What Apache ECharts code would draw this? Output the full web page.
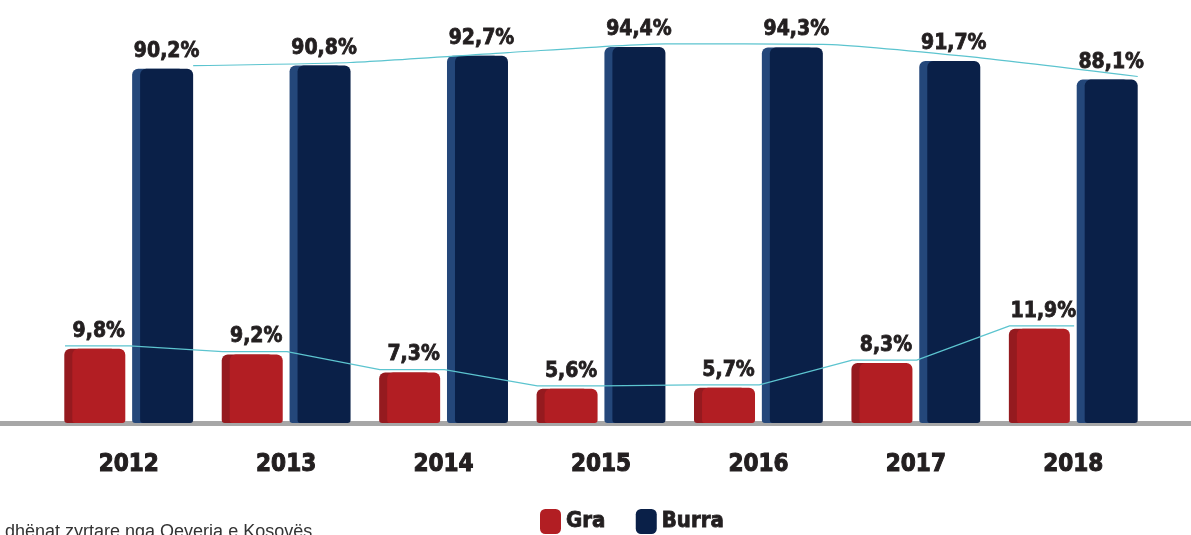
<!DOCTYPE html>
<html>
<head>
<meta charset="utf-8">
<script src="https://cdn.jsdelivr.net/npm/echarts@6/dist/echarts.min.js"></script>
<style>
  html, body { margin: 0; padding: 0; background: #fff; }
  #chart { width: 1191px; height: 535px; }
</style>
</head>
<body>
<div id="chart"></div>
<script>
// te dhenat
const years = ['2012', '2013', '2014', '2015', '2016', '2017', '2018'];
const gra = [9.8, 9.2, 7.3, 5.6, 5.7, 8.3, 11.9];
const burra = [90.2, 90.8, 92.7, 94.4, 94.3, 91.7, 88.1];
const source = 'dhënat zyrtare nga Qeveria e Kosovës';

const narrow = '"Liberation Sans Narrow", "DejaVu Sans Condensed", sans-serif';
const ink = '#231f20';
const fmt = v => v.toFixed(1).replace('.', ',') + '%';

// vijat e trendit
const graTrend = [];
gra.forEach((v, i) => {
  graTrend.push([i - 0.43, v + 0.3]);
  graTrend.push([i - 0.02, v + 0.3]);
});
const burraTrend = burra.map((v, i) => [i + 0.384, v + 0.6]);

const valueLabel = {
  show: true,
  position: 'top',
  distance: 7,
  formatter: p => fmt(p.value),
  fontSize: 21,
  fontWeight: 'bold',
  fontFamily: narrow,
  color: ink,
  textBorderColor: ink,
  textBorderWidth: 0.8
};

const chart = echarts.init(document.getElementById('chart'));

const option = {
  animation: false,
  title: {
    text: source,
    left: 0,
    top: 518,
    textStyle: { fontSize: 18, fontWeight: 'normal', fontFamily: '"Liberation Sans", Arial, sans-serif', color: '#333' }
  },
  legend: {
    data: ['Gra', 'Burra'],
    left: 535,
    top: 504,
    icon: 'roundRect',
    itemWidth: 21,
    itemHeight: 25,
    itemGap: 30,
    textStyle: { fontSize: 22, fontWeight: 'bold', fontFamily: narrow, color: ink, textBorderColor: ink, textBorderWidth: 0.8 }
  },
  graphic: [{
    type: 'rect',
    left: 0,
    top: 421,
    shape: { width: 1191, height: 5 },
    style: { fill: '#a7a7a7' }
  }],
  grid: { left: 54, right: 35, top: 23, bottom: 112 },
  xAxis: [
    {
      type: 'category',
      data: years,
      axisLine: { show: false },
      axisTick: { show: false },
      axisLabel: {
        fontSize: 24, fontWeight: 'bold', fontFamily: narrow, color: ink,
        textBorderColor: ink, textBorderWidth: 1, margin: 30, padding: [0, 8, 0, 0]
      }
    },
    { type: 'value', min: -0.5, max: 6.5, show: false }
  ],
  yAxis: [
    { type: 'value', min: 22, max: 99, show: false },
    { type: 'value', min: 2, max: 44, show: false }
  ],
  series: [
    {
      name: 'Gra',
      type: 'bar',
      yAxisIndex: 1,
      barWidth: 53,
      barGap: '28%',
      data: gra,
      itemStyle: {
        color: '#b21e23',
        borderRadius: [6, 6, 3, 3],
        shadowColor: '#951a1f',
        shadowOffsetX: -8,
        shadowBlur: 0
      },
      label: valueLabel
    },
    {
      name: 'Burra',
      type: 'bar',
      yAxisIndex: 0,
      barWidth: 53,
      data: burra,
      itemStyle: {
        color: '#0a2048',
        borderRadius: [6, 6, 3, 3],
        shadowColor: '#24477a',
        shadowOffsetX: -8,
        shadowBlur: 0
      },
      label: valueLabel
    },
    {
      type: 'line',
      xAxisIndex: 1,
      yAxisIndex: 1,
      data: graTrend,
      symbol: 'none',
      lineStyle: { color: '#5cc4cf', width: 1.2 },
      silent: true
    },
    {
      type: 'line',
      xAxisIndex: 1,
      yAxisIndex: 0,
      data: burraTrend,
      symbol: 'none',
      smooth: 0.2,
      lineStyle: { color: '#5cc4cf', width: 1.2 },
      silent: true
    }
  ]
};

chart.setOption(option);
</script>
</body>
</html>
